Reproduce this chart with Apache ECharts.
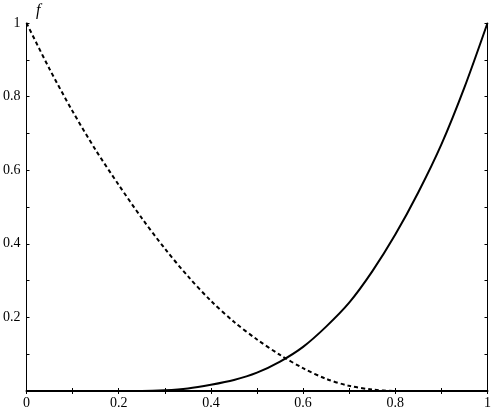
<!DOCTYPE html>
<html>
<head>
<meta charset="utf-8">
<script src="https://cdn.jsdelivr.net/npm/echarts@6/dist/echarts.min.js"></script>
<style>
  html, body { margin: 0; padding: 0; background: #fff; }
  #chart { width: 494px; height: 410px; }
</style>
</head>
<body>
<div id="chart"></div>
<script>
// x positions (step 0.05) and the two curves
const xs = [0, 0.05, 0.1, 0.15, 0.2, 0.25, 0.3, 0.35, 0.4, 0.45, 0.5,
            0.55, 0.6, 0.65, 0.7, 0.75, 0.8, 0.85, 0.9, 0.95, 1];
const solidVals = [0, 0, 0, 0, 0, 0, 0.002, 0.007, 0.017, 0.03, 0.05,
                   0.08, 0.12, 0.175, 0.24, 0.325, 0.425, 0.54, 0.67, 0.825, 1];
const dashedVals = [1, 0.875, 0.76, 0.655, 0.56, 0.47, 0.387, 0.312, 0.245, 0.188, 0.14,
                    0.098, 0.062, 0.033, 0.014, 0.004, 0, 0, 0, 0, 0];
const xTickLabels = ["0", "0.2", "0.4", "0.6", "0.8", "1"];
const yTickLabels = ["0.2", "0.4", "0.6", "0.8", "1"];

const chart = echarts.init(document.getElementById("chart"));
const font = "'Liberation Serif', 'DejaVu Serif', serif";

function pairs(vals) {
  return xs.map((x, i) => [x, vals[i]]);
}
function fmt(v) {
  return String(Math.round(v * 10) / 10);
}

const option = {
  animation: false,
  title: {
    text: "f",
    left: 31,
    top: -2,
    textStyle: { fontFamily: font, fontStyle: "italic", fontWeight: "normal", fontSize: 16, color: "#000" }
  },
  grid: { left: 24.5, right: 1, top: 23, bottom: 19 },
  xAxis: [
    {
      type: "value", min: 0, max: 1, interval: 0.1,
      axisLine: { show: true, onZero: false, lineStyle: { color: "#000", width: 2 } },
      axisTick: { show: true, inside: true, length: 3, lineStyle: { color: "#000" } },
      splitLine: { show: false },
      axisLabel: {
        color: "#000", fontFamily: font, fontSize: 14, margin: 5,
        formatter: (v) => xTickLabels.includes(fmt(v)) ? fmt(v) : ""
      }
    },
    {
      type: "value", min: 0, max: 1, interval: 0.1, position: "top",
      axisLine: { show: false },
      axisTick: { show: true, inside: true, length: 3, lineStyle: { color: "#000" } },
      splitLine: { show: false },
      axisLabel: { show: false }
    }
  ],
  yAxis: [
    {
      type: "value", min: 0, max: 1, interval: 0.1,
      axisLine: { show: true, onZero: false, lineStyle: { color: "#000", width: 1 } },
      axisTick: { show: true, inside: true, length: 3, lineStyle: { color: "#000" } },
      splitLine: { show: false },
      axisLabel: {
        color: "#000", fontFamily: font, fontSize: 14, margin: 6,
        formatter: (v) => yTickLabels.includes(fmt(v)) ? fmt(v) : ""
      }
    },
    {
      type: "value", min: 0, max: 1, interval: 0.1, position: "right",
      axisLine: { show: true, onZero: false, lineStyle: { color: "#000", width: 1 } },
      axisTick: { show: true, inside: true, length: 3, lineStyle: { color: "#000" } },
      splitLine: { show: false },
      axisLabel: { show: false }
    }
  ],
  series: [
    {
      name: "solid",
      type: "line",
      data: pairs(solidVals),
      smooth: 0.3,
      showSymbol: false,
      lineStyle: { color: "#000", width: 2 }
    },
    {
      name: "dashed",
      type: "line",
      data: pairs(dashedVals),
      smooth: 0.3,
      showSymbol: false,
      lineStyle: { color: "#000", width: 2, type: [4, 3] }
    }
  ]
};

chart.setOption(option);
</script>
</body>
</html>
